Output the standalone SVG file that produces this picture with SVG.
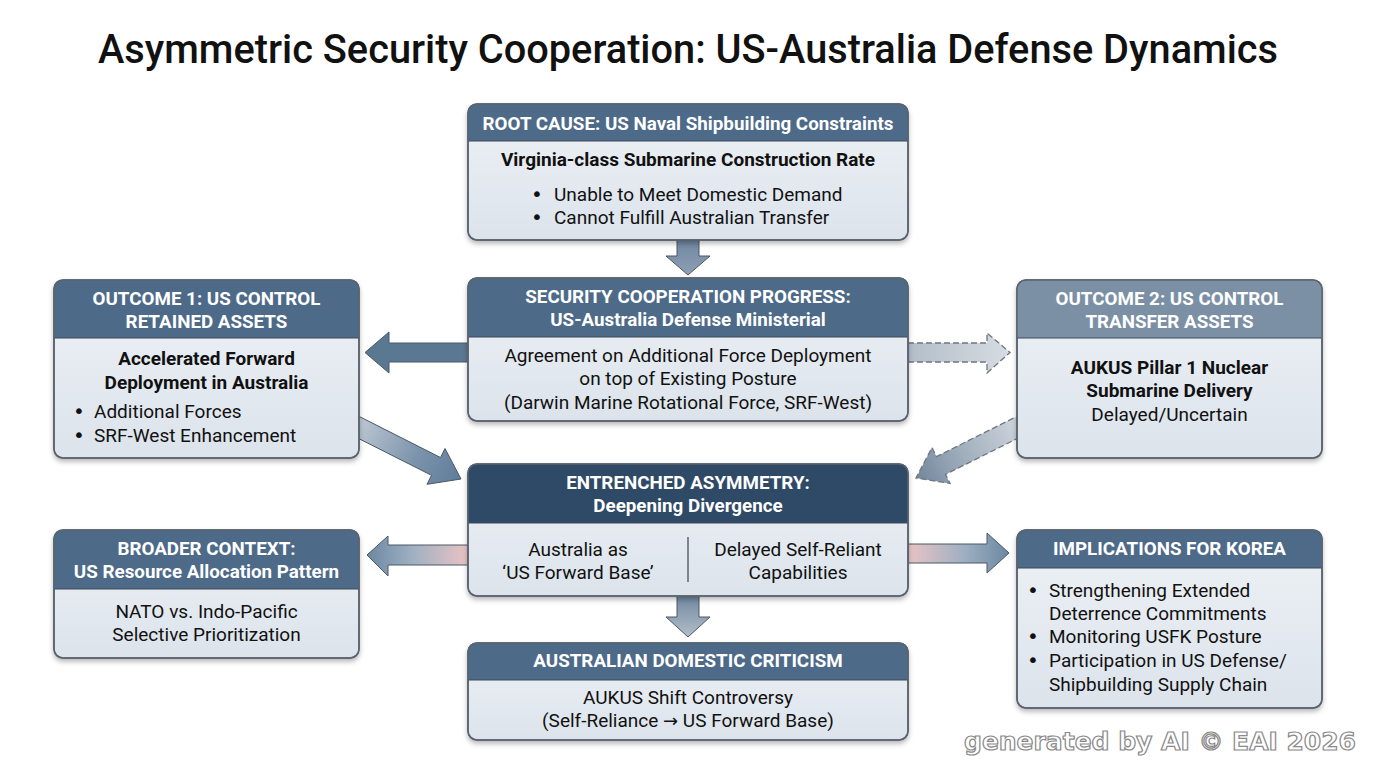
<svg xmlns="http://www.w3.org/2000/svg" width="1376" height="768" viewBox="0 0 1376 768">
<defs>
<style>
.t{font-family:Roboto,"Liberation Sans",sans-serif;text-anchor:middle}
.hd{font-family:Roboto,"Liberation Sans",sans-serif;font-weight:bold;font-size:18.8px;fill:#ffffff;text-anchor:middle}
.b{font-family:Roboto,"Liberation Sans",sans-serif;font-size:19px;fill:#111111}
.bu{font-family:"DejaVu Sans",sans-serif;font-size:20px;fill:#111111}
.bb{font-family:Roboto,"Liberation Sans",sans-serif;font-size:19px;font-weight:bold;fill:#111111}
.body{fill:url(#gBody);stroke:#59636e;stroke-width:1.5}
.frame{fill:none;stroke:#59636e;stroke-width:1.5}
.sep{stroke:#3c4a58;stroke-width:1.2}
.arr{stroke:#4a5866;stroke-width:1}
.dash{stroke:#6f767e;stroke-width:1.3;stroke-dasharray:6 3}
</style>
<linearGradient id="gBody" x1="0" y1="0" x2="0" y2="1">
<stop offset="0" stop-color="#eef2f6"/>
<stop offset="1" stop-color="#dce3eb"/>
</linearGradient>
<linearGradient id="gDown" x1="0" y1="0" x2="0" y2="1">
<stop offset="0" stop-color="#6f88a2"/>
<stop offset="1" stop-color="#8e9fb2"/>
</linearGradient>
<linearGradient id="gDown2" x1="0" y1="0" x2="0" y2="1">
<stop offset="0" stop-color="#7189a3"/>
<stop offset="1" stop-color="#b3bdc8"/>
</linearGradient>
<linearGradient id="gDiagL" gradientUnits="userSpaceOnUse" x1="350" y1="423" x2="461" y2="479">
<stop offset="0" stop-color="#c4cdd7"/>
<stop offset="0.6" stop-color="#7b93ab"/>
<stop offset="1" stop-color="#5f7d9a"/>
</linearGradient>
<linearGradient id="gDiagR" gradientUnits="userSpaceOnUse" x1="1026" y1="423" x2="916" y2="478">
<stop offset="0" stop-color="#d3d9e0"/>
<stop offset="0.6" stop-color="#9dacbb"/>
<stop offset="1" stop-color="#72879c"/>
</linearGradient>
<linearGradient id="gDashR" gradientUnits="userSpaceOnUse" x1="908" y1="0" x2="1010" y2="0">
<stop offset="0" stop-color="#b3bec9"/>
<stop offset="1" stop-color="#d6dce2"/>
</linearGradient>
<linearGradient id="gPinkL" gradientUnits="userSpaceOnUse" x1="367" y1="0" x2="468" y2="0">
<stop offset="0" stop-color="#6c88a2"/>
<stop offset="0.45" stop-color="#9fb0c2"/>
<stop offset="1" stop-color="#e9c4c4"/>
</linearGradient>
<linearGradient id="gPinkR" gradientUnits="userSpaceOnUse" x1="908" y1="0" x2="1009" y2="0">
<stop offset="0" stop-color="#e9c4c4"/>
<stop offset="0.55" stop-color="#9fb0c2"/>
<stop offset="1" stop-color="#6c88a2"/>
</linearGradient>
<filter id="sh" x="-10%" y="-10%" width="120%" height="130%">
<feDropShadow dx="0" dy="3" stdDeviation="2.5" flood-color="#000000" flood-opacity="0.28"/>
</filter>
</defs>
<rect width="1376" height="768" fill="#ffffff"/>

<text x="688" y="63" class="t" font-size="40" font-weight="500" fill="#111111" textLength="1180" lengthAdjust="spacingAndGlyphs">Asymmetric Security Cooperation: US-Australia Defense Dynamics</text>

<g id="connectors">
<polygon class="arr" fill="url(#gDown)" points="677,240 699,240 699,256 710,256 688,275 666,256 677,256"/>
<polygon class="arr" fill="#5b7893" points="468,343 389,343 389,332 365,352.5 389,373 389,362 468,362"/>
<polygon class="dash" fill="url(#gDashR)" points="908,343 987,343 987,333 1010,352.5 987,373 987,362 908,362"/>
<polygon class="arr" fill="url(#gDiagL)" points="354.5,414.1 440.5,457.5 445,448.5 461,479 427,484.3 431.5,475.3 345.5,431.9"/>
<polygon class="dash" fill="url(#gDiagR)" points="1021.5,414.1 936.5,456.6 932,447.6 916,478 950,483.4 945.5,474.4 1030.5,431.9"/>
<polygon class="arr" fill="url(#gPinkL)" points="468,545 388,545 388,536 367,555 388,576 388,565 468,565"/>
<polygon class="arr" fill="url(#gPinkR)" points="908,544 987,544 987,533 1009,553 987,573 987,563 908,563"/>
<polygon class="arr" fill="url(#gDown2)" points="677,596 699,596 699,617 710,617 688,637 666,617 677,617"/>
</g>

<g id="root-cause">
<rect x="468" y="104" width="440" height="136" rx="9" class="body" filter="url(#sh)"/>
<path d="M468,141 V113 Q468,104 477,104 H899 Q908,104 908,113 V141 Z" fill="#4d6a89"/>
<line x1="468" y1="141" x2="908" y2="141" class="sep"/>
<rect x="468" y="104" width="440" height="136" rx="9" class="frame"/>
<text x="688" y="130" class="hd">ROOT CAUSE: US Naval Shipbuilding Constraints</text>
<text x="688" y="166" class="bb" text-anchor="middle">Virginia-class Submarine Construction Rate</text>
<text x="531" y="201" class="bu">•</text><text x="554" y="201" class="b">Unable to Meet Domestic Demand</text>
<text x="531" y="224" class="bu">•</text><text x="554" y="224" class="b">Cannot Fulfill Australian Transfer</text>
</g>

<g id="security-cooperation">
<rect x="468" y="278" width="440" height="143" rx="9" class="body" filter="url(#sh)"/>
<path d="M468,337 V287 Q468,278 477,278 H899 Q908,278 908,287 V337 Z" fill="#4d6a89"/>
<line x1="468" y1="337" x2="908" y2="337" class="sep"/>
<rect x="468" y="278" width="440" height="143" rx="9" class="frame"/>
<text x="688" y="303" class="hd">SECURITY COOPERATION PROGRESS:</text>
<text x="688" y="326" class="hd">US-Australia Defense Ministerial</text>
<text x="688" y="362" class="b" text-anchor="middle">Agreement on Additional Force Deployment</text>
<text x="688" y="385" class="b" text-anchor="middle">on top of Existing Posture</text>
<text x="688" y="409" class="b" text-anchor="middle">(Darwin Marine Rotational Force, SRF-West)</text>
</g>

<g id="outcome-1">
<rect x="54" y="280" width="305" height="178" rx="9" class="body" filter="url(#sh)"/>
<path d="M54,338 V289 Q54,280 63,280 H350 Q359,280 359,289 V338 Z" fill="#4d6a89"/>
<line x1="54" y1="338" x2="359" y2="338" class="sep"/>
<rect x="54" y="280" width="305" height="178" rx="9" class="frame"/>
<text x="206.5" y="305" class="hd">OUTCOME 1: US CONTROL</text>
<text x="206.5" y="328" class="hd">RETAINED ASSETS</text>
<text x="206.5" y="365" class="bb" text-anchor="middle">Accelerated Forward</text>
<text x="206.5" y="389" class="bb" text-anchor="middle">Deployment in Australia</text>
<text x="73" y="418" class="bu">•</text><text x="94" y="418" class="b">Additional Forces</text>
<text x="73" y="442" class="bu">•</text><text x="94" y="442" class="b">SRF-West Enhancement</text>
</g>

<g id="outcome-2">
<rect x="1017" y="280" width="305" height="178" rx="9" class="body" filter="url(#sh)"/>
<path d="M1017,338 V289 Q1017,280 1026,280 H1313 Q1322,280 1322,289 V338 Z" fill="#7b90a5"/>
<line x1="1017" y1="338" x2="1322" y2="338" class="sep"/>
<rect x="1017" y="280" width="305" height="178" rx="9" class="frame"/>
<text x="1169.5" y="305" class="hd">OUTCOME 2: US CONTROL</text>
<text x="1169.5" y="328" class="hd">TRANSFER ASSETS</text>
<text x="1169.5" y="374" class="bb" text-anchor="middle">AUKUS Pillar 1 Nuclear</text>
<text x="1169.5" y="397" class="bb" text-anchor="middle">Submarine Delivery</text>
<text x="1169.5" y="421" class="b" text-anchor="middle">Delayed/Uncertain</text>
</g>

<g id="entrenched-asymmetry">
<rect x="468" y="464" width="440" height="132" rx="9" class="body" filter="url(#sh)"/>
<path d="M468,523 V473 Q468,464 477,464 H899 Q908,464 908,473 V523 Z" fill="#2f4a67"/>
<line x1="468" y1="523" x2="908" y2="523" class="sep"/>
<rect x="468" y="464" width="440" height="132" rx="9" class="frame"/>
<text x="688" y="489" class="hd">ENTRENCHED ASYMMETRY:</text>
<text x="688" y="512" class="hd">Deepening Divergence</text>
<text x="578" y="556" class="b" text-anchor="middle">Australia as</text>
<text x="578" y="579" class="b" text-anchor="middle">‘US Forward Base’</text>
<line x1="688" y1="537" x2="688" y2="582" stroke="#5a6470" stroke-width="1.5"/>
<text x="798" y="556" class="b" text-anchor="middle">Delayed Self-Reliant</text>
<text x="798" y="579" class="b" text-anchor="middle">Capabilities</text>
</g>

<g id="broader-context">
<rect x="54" y="530" width="305" height="128" rx="9" class="body" filter="url(#sh)"/>
<path d="M54,589 V539 Q54,530 63,530 H350 Q359,530 359,539 V589 Z" fill="#4d6a89"/>
<line x1="54" y1="589" x2="359" y2="589" class="sep"/>
<rect x="54" y="530" width="305" height="128" rx="9" class="frame"/>
<text x="206.5" y="555" class="hd">BROADER CONTEXT:</text>
<text x="206.5" y="578" class="hd">US Resource Allocation Pattern</text>
<text x="206.5" y="618" class="b" text-anchor="middle">NATO vs. Indo-Pacific</text>
<text x="206.5" y="641" class="b" text-anchor="middle">Selective Prioritization</text>
</g>

<g id="implications-korea">
<rect x="1017" y="530" width="305" height="178" rx="9" class="body" filter="url(#sh)"/>
<path d="M1017,568 V539 Q1017,530 1026,530 H1313 Q1322,530 1322,539 V568 Z" fill="#4d6a89"/>
<line x1="1017" y1="568" x2="1322" y2="568" class="sep"/>
<rect x="1017" y="530" width="305" height="178" rx="9" class="frame"/>
<text x="1169.5" y="555" class="hd">IMPLICATIONS FOR KOREA</text>
<text x="1027" y="597" class="bu">•</text><text x="1049" y="597" class="b">Strengthening Extended</text>
<text x="1049" y="620" class="b">Deterrence Commitments</text>
<text x="1027" y="643" class="bu">•</text><text x="1049" y="643" class="b">Monitoring USFK Posture</text>
<text x="1027" y="667" class="bu">•</text><text x="1049" y="667" class="b">Participation in US Defense/</text>
<text x="1049" y="691" class="b">Shipbuilding Supply Chain</text>
</g>

<g id="domestic-criticism">
<rect x="468" y="643" width="440" height="97" rx="9" class="body" filter="url(#sh)"/>
<path d="M468,680 V652 Q468,643 477,643 H899 Q908,643 908,652 V680 Z" fill="#4d6a89"/>
<line x1="468" y1="680" x2="908" y2="680" class="sep"/>
<rect x="468" y="643" width="440" height="97" rx="9" class="frame"/>
<text x="688" y="667" class="hd">AUSTRALIAN DOMESTIC CRITICISM</text>
<text x="688" y="704" class="b" text-anchor="middle">AUKUS Shift Controversy</text>
<text x="688" y="727" class="b" text-anchor="middle">(Self-Reliance <tspan font-family="'DejaVu Sans',sans-serif" font-size="18">→</tspan> US Forward Base)</text>
</g>

<text x="1160" y="750" font-family="'DejaVu Sans',Verdana,sans-serif" font-weight="bold" font-size="24" fill="#ffffff" stroke="#8a8a8a" stroke-width="1.2" text-anchor="middle" textLength="392" lengthAdjust="spacingAndGlyphs">generated by AI © EAI 2026</text>
</svg>
